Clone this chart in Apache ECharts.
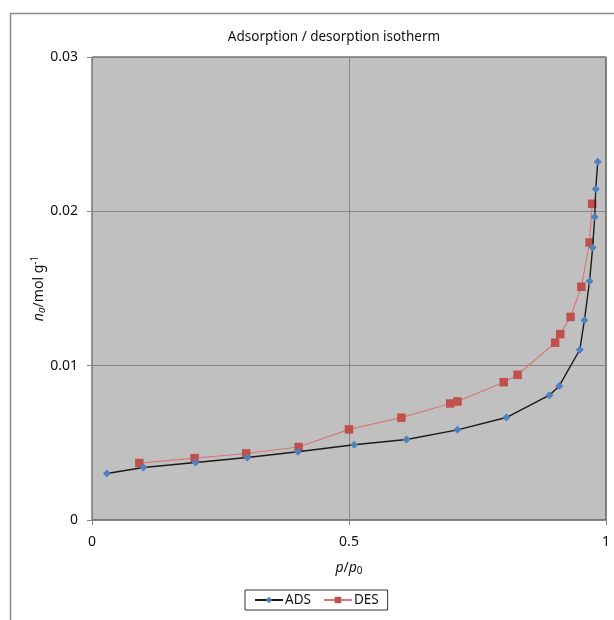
<!DOCTYPE html>
<html>
<head>
<meta charset="utf-8">
<script src="https://cdn.jsdelivr.net/npm/echarts@6/dist/echarts.min.js"></script>
<style>
html,body{margin:0;padding:0;background:#fff;}
#c{width:614px;height:620px;}
</style>
</head>
<body>
<div id="c"></div>
<script>
// Relative pressure p/p0 and adsorbed amount (mol g^-1)
const adsX = [0.029, 0.100, 0.2015, 0.302, 0.4005, 0.510, 0.612, 0.711, 0.806, 0.890, 0.909, 0.949, 0.958, 0.968, 0.974, 0.978, 0.980, 0.984];
const adsY = [0.00301, 0.00340, 0.00373, 0.00405, 0.00442, 0.00488, 0.00522, 0.00584, 0.00664, 0.00809, 0.00869, 0.01103, 0.01295, 0.01547, 0.01765, 0.01963, 0.02145, 0.02321];
const desX = [0.092, 0.1996, 0.300, 0.402, 0.500, 0.602, 0.697, 0.711, 0.801, 0.828, 0.901, 0.911, 0.931, 0.952, 0.968, 0.973];
const desY = [0.00369, 0.00401, 0.00431, 0.00473, 0.00587, 0.00663, 0.00755, 0.00768, 0.00893, 0.00941, 0.01149, 0.01204, 0.01316, 0.01511, 0.01798, 0.02049];
const seriesNames = ['ADS', 'DES'];
const xTicks = [0, 0.5, 1];
const yTicks = [0, 0.01, 0.02, 0.03];

const zip = (a, b) => a.map((v, i) => [v, b[i]]);
const font = "'Noto Sans', 'DejaVu Sans', sans-serif";
const chart = echarts.init(document.getElementById('c'), null, {renderer: 'canvas'});
chart.setOption({
  animation: false,
  backgroundColor: '#fff',
  graphic: [{
    type: 'rect', left: 8, top: 11, silent: true, z: -10,
    shape: {width: 700, height: 700},
    style: {fill: 'none', stroke: '#8c8c8c', lineWidth: 1.5}
  }],
  title: {
    text: 'Adsorption / desorption isotherm',
    left: 329, top: 25, textAlign: 'center',
    textStyle: {fontFamily: font, fontSize: 13.5, fontWeight: 'normal', color: '#111'}
  },
  legend: {
    data: seriesNames,
    left: 245, top: 590,
    padding: [3, 9, 3, 9],
    itemGap: 12,
    itemWidth: 28, itemHeight: 8,
    borderColor: '#333', borderWidth: 1,
    textStyle: {fontFamily: font, fontSize: 13.5, color: '#111', padding: [0, 0, 0, -3]}
  },
  grid: {
    left: 92, right: 8, top: 57, bottom: 100,
    show: true, backgroundColor: '#c0c0c0', borderColor: '#333', borderWidth: 1
  },
  xAxis: {
    type: 'value', min: xTicks[0], max: xTicks[xTicks.length - 1], interval: 0.5,
    name: '{i|p}{n|/}{i|p}{sub|0}',
    nameLocation: 'middle', nameGap: 40,
    nameTextStyle: {
      fontFamily: font, color: '#111',
      rich: {
        i: {fontStyle: 'italic', fontSize: 14, fontFamily: font, color: '#111'},
        n: {fontSize: 14, fontFamily: font, color: '#111'},
        sub: {fontSize: 10, fontFamily: font, color: '#111', padding: [6, 0, 0, 0]}
      }
    },
    axisLine: {lineStyle: {color: '#868686', width: 1}},
    axisTick: {show: true, length: 5, lineStyle: {color: '#868686'}},
    axisLabel: {fontFamily: font, fontSize: 14, color: '#111', margin: 15,
      formatter: v => String(v)},
    splitLine: {show: true, lineStyle: {color: '#868686', width: 1}}
  },
  yAxis: {
    type: 'value', min: yTicks[0], max: yTicks[yTicks.length - 1], interval: 0.01,
    name: '{i|n}{sub|a}{n|/mol g}{sup|-1}',
    nameLocation: 'middle', nameGap: 44, nameRotate: 90, nameMoveOverlap: false,
    nameTextStyle: {
      fontFamily: font, color: '#111',
      rich: {
        i: {fontStyle: 'italic', fontSize: 14, fontFamily: font, color: '#111'},
        sub: {fontStyle: 'italic', fontSize: 10, fontFamily: font, color: '#111', padding: [6, 0, 0, 0]},
        n: {fontSize: 14, fontFamily: font, color: '#111'},
        sup: {fontSize: 10, fontFamily: font, color: '#111', padding: [0, 0, 8, 0]}
      }
    },
    axisLine: {show: true, lineStyle: {color: '#868686', width: 1}},
    axisTick: {show: true, length: 5, lineStyle: {color: '#868686'}},
    axisLabel: {fontFamily: font, fontSize: 14, color: '#111', margin: 14,
      formatter: v => v === 0 ? '0' : v.toFixed(2)},
    splitLine: {show: true, lineStyle: {color: '#868686', width: 1}}
  },
  series: [{
    name: seriesNames[0], type: 'line', data: zip(adsX, adsY),
    symbol: 'diamond', symbolSize: 8, showSymbol: true,
    lineStyle: {color: '#1a1a1a', width: 1.4},
    itemStyle: {color: '#4f81bd', borderWidth: 0},
    z: 3
  }, {
    name: seriesNames[1], type: 'line', data: zip(desX, desY),
    symbol: 'rect', symbolSize: 8.5, showSymbol: true,
    lineStyle: {color: '#d77a78', width: 1.2},
    itemStyle: {color: '#c0504d', borderWidth: 0},
    z: 2
  }]
});
</script>
</body>
</html>
